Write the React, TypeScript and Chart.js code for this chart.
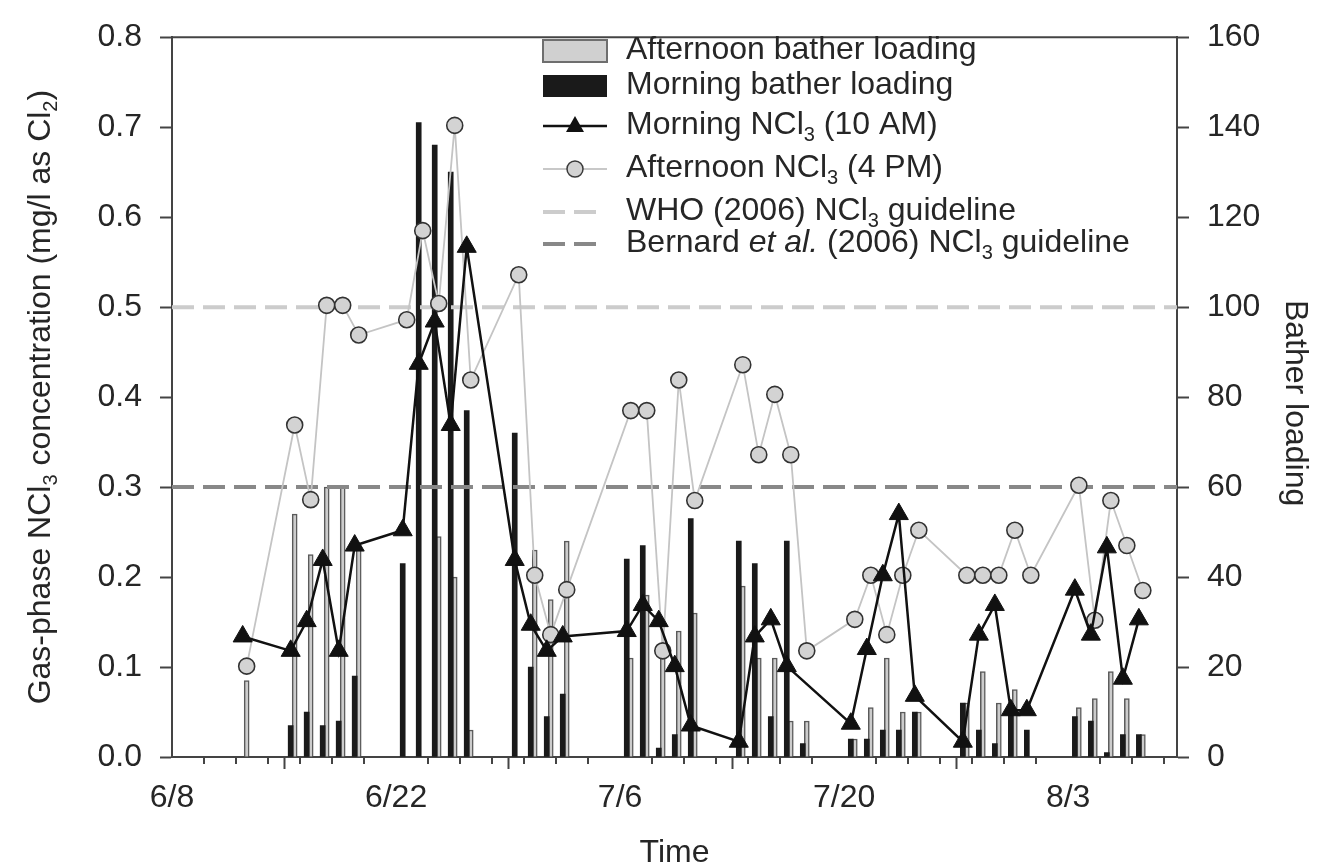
import React, { useEffect, useRef } from 'react';
import { Chart, registerables } from 'chart.js';

Chart.register(...registerables);

// ---------------- data ----------------
const sampleDates = ['6/12','6/15','6/16','6/17','6/18','6/19','6/22','6/23','6/24','6/25','6/26','6/29','6/30','7/1','7/2','7/6','7/7','7/8','7/9','7/10','7/13','7/14','7/15','7/16','7/17','7/20','7/21','7/22','7/23','7/24','7/27','7/28','7/29','7/30','7/31','8/3','8/4','8/5','8/6','8/7'];
const morningNCl3 = [0.134,0.118,0.151,0.219,0.118,0.235,0.252,0.437,0.484,0.369,0.567,0.219,0.147,0.118,0.134,0.140,0.169,0.151,0.101,0.035,0.017,0.134,0.153,0.101,null,0.037,0.120,0.202,0.270,0.068,0.017,0.136,0.169,0.052,0.052,0.186,0.136,0.233,0.087,0.153];
const afternoonNCl3 = [0.101,0.369,0.286,0.502,0.502,0.469,0.486,0.585,0.504,0.702,0.419,0.536,0.202,0.136,0.186,0.385,0.385,0.118,0.419,0.285,0.436,0.336,0.403,0.336,0.118,0.153,0.202,0.136,0.202,0.252,0.202,0.202,0.202,0.252,0.202,0.302,0.152,0.285,0.235,0.185];
const morningBathers = [null,7,10,7,8,18,43,141,136,130,77,72,20,9,14,44,47,2,5,53,48,43,9,48,3,4,4,6,6,10,12,6,3,10,6,9,8,1,5,5];
const afternoonBathers = [17,54,45,60,60,47,null,null,49,40,6,null,46,35,48,22,36,23,28,32,38,22,22,8,8,4,11,22,10,10,12,19,12,15,null,11,13,19,13,5];
const whoGuideline = 0.5;
const bernardGuideline = 0.3;

const xTickLabels = ['6/8','6/22','7/6','7/20','8/3'];
const xAxisStart = '6/8';
const xAxisEndDays = 62.8;
const leftAxisMax = 0.8;
const rightAxisMax = 160;

type Seg = { t: string; sub?: boolean; it?: boolean };
const legendLabels: Seg[][] = [
  [{ t: 'Afternoon bather loading' }],
  [{ t: 'Morning bather loading' }],
  [{ t: 'Morning NCl' }, { t: '3', sub: true }, { t: ' (10 AM)' }],
  [{ t: 'Afternoon NCl' }, { t: '3', sub: true }, { t: ' (4 PM)' }],
  [{ t: 'WHO (2006) NCl' }, { t: '3', sub: true }, { t: ' guideline' }],
  [{ t: 'Bernard ' }, { t: 'et al.', it: true }, { t: ' (2006) NCl' }, { t: '3', sub: true }, { t: ' guideline' }],
];
const leftTitle: Seg[] = [{ t: 'Gas-phase NCl' }, { t: '3', sub: true }, { t: ' concentration (mg/l as Cl' }, { t: '2', sub: true }, { t: ')' }];
const rightTitle: Seg[] = [{ t: 'Bather loading' }];
const bottomTitle: Seg[] = [{ t: 'Time' }];

// ---------------- helpers ----------------
const FONT = "'Liberation Sans', Arial, Helvetica, sans-serif";
const FS = 32;
const TEXT = '#262626';
const AXIS = '#444444';
const MORNING_FRAC = 10 / 24;
const AFTERNOON_FRAC = 16 / 24;

function dayOffset(s: string): number {
  const [m, d] = s.split('/').map(Number);
  const [m0, d0] = xAxisStart.split('/').map(Number);
  const cum: Record<number, number> = { 6: 0, 7: 30, 8: 61 };
  return cum[m] + d - (cum[m0] + d0);
}
const xTickDays = xTickLabels.map(dayOffset);

function pts(vals: (number | null)[], frac: number) {
  const out: { x: number; y: number }[] = [];
  sampleDates.forEach((d, i) => {
    const v = vals[i];
    if (v !== null && v !== undefined) out.push({ x: dayOffset(d) + frac, y: v });
  });
  return out;
}

function segFont(s: Seg) {
  return `${s.it ? 'italic ' : ''}${s.sub ? Math.round(FS * 0.62) : FS}px ${FONT}`;
}
function richWidth(ctx: CanvasRenderingContext2D, segs: Seg[]) {
  let w = 0;
  for (const s of segs) { ctx.font = segFont(s); w += ctx.measureText(s.t).width; }
  return w;
}
function drawRich(ctx: CanvasRenderingContext2D, x: number, baseline: number, segs: Seg[], align: 'left' | 'center') {
  let cx = align === 'center' ? x - richWidth(ctx, segs) / 2 : x;
  ctx.textBaseline = 'alphabetic';
  ctx.textAlign = 'left';
  for (const s of segs) {
    ctx.font = segFont(s);
    ctx.fillText(s.t, cx, baseline + (s.sub ? FS * 0.22 : 0));
    cx += ctx.measureText(s.t).width;
  }
}

const decorPlugin = {
  id: 'decor',
  afterDraw(chart: any) {
    const ctx: CanvasRenderingContext2D = chart.ctx;
    const { left, right, top, bottom } = chart.chartArea;
    const xs = chart.scales.x;
    ctx.save();
    ctx.strokeStyle = AXIS;
    ctx.lineWidth = 2;
    ctx.beginPath();
    ctx.moveTo(left - 1, top);
    ctx.lineTo(right + 1, top);
    ctx.stroke();
    // minor x ticks every 2 days
    ctx.beginPath();
    for (let v = 0; v <= xAxisEndDays; v += 2) {
      if (xTickDays.includes(v)) continue;
      const px = Math.round(xs.getPixelForValue(v));
      ctx.moveTo(px, bottom);
      ctx.lineTo(px, bottom + 7);
    }
    ctx.stroke();

    // legend
    const sx0 = 543, sx1 = 607, tx = 626;
    const rows = [51, 86, 126, 169, 212, 244];
    ctx.fillStyle = '#d0d0d0';
    ctx.strokeStyle = '#6e6e6e';
    ctx.lineWidth = 2;
    ctx.fillRect(sx0, rows[0] - 11, sx1 - sx0, 22);
    ctx.strokeRect(sx0, rows[0] - 11, sx1 - sx0, 22);
    ctx.fillStyle = '#1a1a1a';
    ctx.fillRect(sx0, rows[1] - 11, sx1 - sx0, 22);
    ctx.strokeStyle = '#111';
    ctx.lineWidth = 2.5;
    ctx.beginPath(); ctx.moveTo(sx0, rows[2]); ctx.lineTo(sx1, rows[2]); ctx.stroke();
    const cxm = (sx0 + sx1) / 2;
    ctx.fillStyle = '#111';
    ctx.beginPath();
    ctx.moveTo(cxm, rows[2] - 10); ctx.lineTo(cxm + 9, rows[2] + 6); ctx.lineTo(cxm - 9, rows[2] + 6); ctx.closePath(); ctx.fill();
    ctx.strokeStyle = '#c8c8c8';
    ctx.lineWidth = 2;
    ctx.beginPath(); ctx.moveTo(sx0, rows[3]); ctx.lineTo(sx1, rows[3]); ctx.stroke();
    ctx.fillStyle = '#d3d3d3';
    ctx.strokeStyle = '#3a3a3a';
    ctx.lineWidth = 1.5;
    ctx.beginPath(); ctx.arc(cxm, rows[3], 8, 0, Math.PI * 2); ctx.fill(); ctx.stroke();
    ctx.setLineDash([22, 9]);
    ctx.lineWidth = 4;
    ctx.strokeStyle = '#cccccc';
    ctx.beginPath(); ctx.moveTo(sx0, rows[4]); ctx.lineTo(sx0 + 53, rows[4]); ctx.stroke();
    ctx.strokeStyle = '#888888';
    ctx.beginPath(); ctx.moveTo(sx0, rows[5]); ctx.lineTo(sx0 + 53, rows[5]); ctx.stroke();
    ctx.setLineDash([]);
    ctx.fillStyle = TEXT;
    legendLabels.forEach((segs, i) => drawRich(ctx, tx, rows[i] + 8, segs, 'left'));

    // axis titles
    ctx.save();
    ctx.translate(50, (top + bottom) / 2);
    ctx.rotate(-Math.PI / 2);
    drawRich(ctx, 0, 0, leftTitle, 'center');
    ctx.restore();
    ctx.save();
    ctx.translate(1286, (top + bottom) / 2 + 6);
    ctx.rotate(Math.PI / 2);
    drawRich(ctx, 0, 0, rightTitle, 'center');
    ctx.restore();
    drawRich(ctx, (left + right) / 2, 862, bottomTitle, 'center');
    ctx.restore();
  },
};

export default function App() {
  const ref = useRef<HTMLCanvasElement | null>(null);
  useEffect(() => {
    if (!ref.current) return;
    const guide = (v: number) => [{ x: 0, y: v }, { x: xAxisEndDays, y: v }];
    const chart = new Chart(ref.current, {
      type: 'bar',
      data: {
        datasets: [
          {
            type: 'line', label: 'Morning NCl3 (10 AM)', data: pts(morningNCl3, MORNING_FRAC), yAxisID: 'y',
            borderColor: '#111', borderWidth: 2.5, pointStyle: 'triangle', pointRadius: 11,
            pointBackgroundColor: '#111', pointBorderColor: '#111', pointBorderWidth: 1, spanGaps: true, order: 1,
          } as any,
          {
            type: 'line', label: 'Afternoon NCl3 (4 PM)', data: pts(afternoonNCl3, AFTERNOON_FRAC), yAxisID: 'y',
            borderColor: '#c4c4c4', borderWidth: 1.8, pointStyle: 'circle', pointRadius: 8,
            pointBackgroundColor: '#d3d3d3', pointBorderColor: '#333333', pointBorderWidth: 1.6, order: 2,
          } as any,
          {
            type: 'line', label: 'WHO', data: guide(whoGuideline), yAxisID: 'y',
            borderColor: '#cccccc', borderWidth: 4, borderDash: [22, 9], pointRadius: 0, order: 3,
          } as any,
          {
            type: 'line', label: 'Bernard', data: guide(bernardGuideline), yAxisID: 'y',
            borderColor: '#888888', borderWidth: 4, borderDash: [22, 9], pointRadius: 0, order: 3,
          } as any,
          {
            type: 'bar', label: 'Afternoon bather loading', data: pts(afternoonBathers, AFTERNOON_FRAC), yAxisID: 'y2',
            backgroundColor: '#cccccc', borderColor: '#5a5a5a', borderWidth: 1.5, barThickness: 5, grouped: false, order: 5,
          } as any,
          {
            type: 'bar', label: 'Morning bather loading', data: pts(morningBathers, MORNING_FRAC), yAxisID: 'y2',
            backgroundColor: '#1a1a1a', borderWidth: 0, barThickness: 5, grouped: false, order: 4,
          } as any,
        ],
      },
      options: {
        responsive: false,
        animation: false,
        events: [],
        layout: { padding: { top: 30, left: 0, right: 0, bottom: 0 } },
        plugins: { legend: { display: false }, tooltip: { enabled: false } },
        scales: {
          x: {
            type: 'linear', min: 0, max: xAxisEndDays, offset: false,
            afterBuildTicks: (s: any) => { s.ticks = xTickDays.map((v) => ({ value: v })); },
            afterFit: (s: any) => { s.height = 110; },
            ticks: {
              callback: (v: any) => xTickLabels[xTickDays.indexOf(Number(v))] ?? '',
              font: { family: FONT, size: FS }, color: TEXT, padding: 10, maxRotation: 0, autoSkip: false,
            },
            grid: { drawOnChartArea: false, tickLength: 12, tickColor: AXIS, tickWidth: 2 },
            border: { display: true, color: AXIS, width: 2 },
          },
          y: {
            position: 'left', min: 0, max: leftAxisMax,
            afterFit: (s: any) => { s.width = 172; },
            ticks: {
              stepSize: 0.1, callback: (v: any) => Number(v).toFixed(1),
              font: { family: FONT, size: FS }, color: TEXT, padding: 18,
            },
            grid: { drawOnChartArea: false, tickLength: 12, tickColor: AXIS, tickWidth: 2 },
            border: { display: true, color: AXIS, width: 2 },
          },
          y2: {
            position: 'right', min: 0, max: rightAxisMax,
            afterFit: (s: any) => { s.width = 145; },
            ticks: {
              stepSize: 20, font: { family: FONT, size: FS }, color: TEXT, padding: 18,
            },
            grid: { drawOnChartArea: false, tickLength: 12, tickColor: AXIS, tickWidth: 2 },
            border: { display: true, color: AXIS, width: 2 },
          },
        },
      } as any,
      plugins: [decorPlugin],
    });
    return () => chart.destroy();
  }, []);

  return (
    <div style={{ position: 'absolute', left: 0, top: 0, width: 1322, height: 867, background: '#fff' }}>
      <canvas ref={ref} width={1322} height={867} />
    </div>
  );
}
